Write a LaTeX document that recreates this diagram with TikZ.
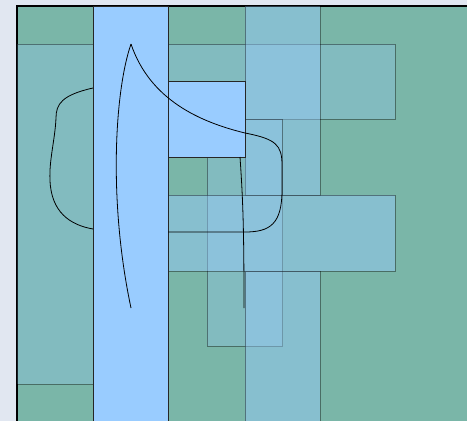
\documentclass[tikz,border=0pt]{standalone}
\definecolor{bgcol}{HTML}{E1E7F1}
\definecolor{baseteal}{HTML}{7AB6A8}
\definecolor{boxblue}{HTML}{99CCFF}
\begin{document}
\begin{tikzpicture}[x=1pt,y=-1pt,
  tbox/.style={fill=boxblue, fill opacity=0.27, draw=black, draw opacity=0.4, line width=1pt},
  tboxs/.style={tbox, fill opacity=0.45},
  obox/.style={fill=boxblue, draw=black!85, line width=1pt},
  curve/.style={draw=black, line width=0.8pt}]
\useasboundingbox (0,0) rectangle (467,421);
\fill[bgcol] (0,0) rectangle (467,421);
% base
\filldraw[fill=baseteal, draw=black, line width=1.2pt] (17,6) rectangle (490,440);
% transparent boxes
\path[tbox] (17,44) rectangle (93,384);
\path[tbox] (93,44) rectangle (395,119);
\path[tboxs] (245,6) rectangle (320,195);
\path[tbox] (207,119) rectangle (282,346);
\path[tboxs] (168,195) rectangle (395,271);
\path[tboxs] (245,271) rectangle (320,430);
% opaque boxes
\path[obox] (93,6) rectangle (168,430);
\path[obox] (168,81) rectangle (245,157);
% named points
\coordinate (peak) at (131,44);
\coordinate (lowtip) at (131,308);
\coordinate (lA) at (93,88);
\coordinate (lB) at (93,229);
\coordinate (rEnd) at (168,232);
\coordinate (eBot) at (240,157);
\coordinate (vEnd) at (244,308);
% curves
\draw[curve] (lA) .. controls (62,95) and (56,104) .. (56,118)
  .. controls (55,140) and (49,160) .. (50,180)
  .. controls (51,212) and (70,225) .. (lB);
\draw[curve] (peak) .. controls (115,90) and (108,200) .. (lowtip);
\draw[curve] (peak) .. controls (150,100) and (200,122) .. (245,133)
  .. controls (276,139) and (282,145) .. (282,165)
  -- (282,190) .. controls (282,224) and (270,232) .. (245,232) -- (rEnd);
\draw[curve] (eBot) .. controls (243,200) and (244,230) .. (vEnd);
\end{tikzpicture}
\end{document}
